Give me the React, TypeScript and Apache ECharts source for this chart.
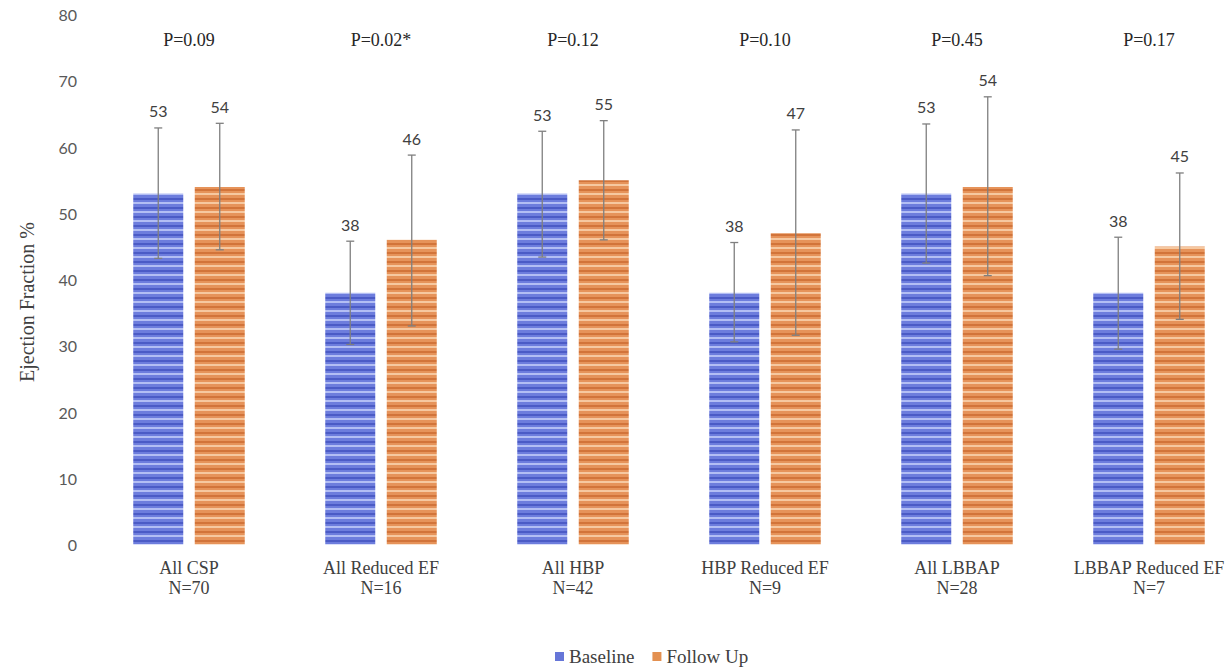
import React, { useEffect, useRef } from "react";
import * as echarts from "echarts";

const categories = ["All CSP\nN=70", "All Reduced EF\nN=16", "All HBP\nN=42", "HBP Reduced EF\nN=9", "All LBBAP\nN=28", "LBBAP Reduced EF\nN=7"];
const pValues = ["P=0.09", "P=0.02*", "P=0.12", "P=0.10", "P=0.45", "P=0.17"];
const baseline = [53, 38, 53, 38, 53, 38];
const baselineLow = [43.2, 30.2, 43.4, 30.6, 42.5, 29.5];
const baselineHigh = [62.9, 45.8, 62.4, 45.6, 63.5, 46.4];
const followUp = [54, 46, 55, 47, 54, 45];
const followUpLow = [44.5, 33.0, 46.0, 31.6, 40.6, 34.0];
const followUpHigh = [63.6, 58.8, 64.0, 62.6, 67.6, 56.1];
const yTicks = { min: 0, max: 80, interval: 10 };

const W = 1225;
const H = 668;
const CW = 1270; // chart canvas wider than the window: the right edge is cut off as in the reference
const BAR_W = 50;
const GAP_PX = 11.5;
const SERIF = "'Liberation Serif', 'Times New Roman', serif";
const SANS = "Lato, Carlito, Calibri, 'Liberation Sans', sans-serif";

function stripes(dark: string, mid: string, light: string) {
  const period = 9;
  const stops: { offset: number; color: string }[] = [];
  const bands: [number, number, string][] = [
    [0, 2, dark],
    [2, 4, mid],
    [4, 6, light],
    [6, 9, mid],
  ];
  for (let y0 = 0; y0 < H; y0 += period) {
    for (const [a, b, c] of bands) {
      stops.push({ offset: Math.min(1, (y0 + a) / H), color: c });
      stops.push({ offset: Math.min(1, (y0 + b) / H), color: c });
    }
  }
  return new echarts.graphic.LinearGradient(0, 0, 0, H, stops, true);
}

function errorSeries(name: string, vals: number[], low: number[], high: number[], offset: number) {
  return {
    type: "custom",
    name: name + " err",
    z: 5,
    clip: false,
    silent: true,
    data: vals.map((v, i) => [i, low[i], high[i], v]),
    renderItem: (params: any, api: any) => {
      const idx = api.value(0);
      const x = api.coord([idx, 0])[0] + offset;
      const yl = api.coord([idx, api.value(1)])[1];
      const yh = api.coord([idx, api.value(2)])[1];
      const st = { stroke: "#7f7f7f", lineWidth: 1.3 };
      return {
        type: "group",
        children: [
          { type: "line", shape: { x1: x, y1: yl, x2: x, y2: yh }, style: st },
          { type: "line", shape: { x1: x - 4, y1: yh, x2: x + 4, y2: yh }, style: st },
          { type: "line", shape: { x1: x - 4, y1: yl, x2: x + 4, y2: yl }, style: st },
          {
            type: "text",
            x: x,
            y: yh - 17,
            style: {
              text: String(api.value(3)),
              textAlign: "center",
              textVerticalAlign: "middle",
              fill: "#404040",
              font: `16px ${SANS}`,
            },
          },
        ],
      };
    },
  };
}

export default function App() {
  const ref = useRef<HTMLDivElement>(null);
  useEffect(() => {
    if (!ref.current) return;
    const chart = echarts.init(ref.current, undefined, { renderer: "svg" });
    const off = (BAR_W + GAP_PX) / 2;
    chart.setOption({
      animation: false,
      backgroundColor: "#ffffff",
      grid: { left: 93, right: CW - 1245, top: 14.7, bottom: H - 544.5 },
      legend: {
        left: 550,
        top: 642,
        icon: "rect",
        itemWidth: 9,
        itemHeight: 9,
        itemGap: 18,
        textStyle: { fontFamily: SERIF, fontSize: 19, color: "#404040" },
        data: [
          { name: "Baseline", itemStyle: { color: "#6676d8" } },
          { name: "Follow Up", itemStyle: { color: "#e39050" } },
        ],
      },
      xAxis: {
        type: "category",
        data: categories,
        axisLine: { show: false },
        axisTick: { show: false },
        axisLabel: {
          interval: 0,
          margin: 13,
          fontFamily: SERIF,
          fontSize: 18,
          lineHeight: 20,
          color: "#404040",
        },
      },
      yAxis: {
        type: "value",
        min: yTicks.min,
        max: yTicks.max,
        interval: yTicks.interval,
        splitLine: { show: false },
        axisLine: { show: false },
        axisTick: { show: false },
        axisLabel: { margin: 16, fontFamily: SANS, fontSize: 16, color: "#595959" },
      },
      graphic: [
        {
          type: "text",
          x: 27,
          y: 302,
          rotation: Math.PI / 2,
          style: {
            text: "Ejection Fraction %",
            textAlign: "center",
            textVerticalAlign: "middle",
            font: `20px ${SERIF}`,
            fill: "#404040",
          },
        },
      ],
      series: [
        {
          type: "bar",
          name: "Baseline",
          data: baseline,
          barWidth: BAR_W,
          barGap: `${(GAP_PX / BAR_W) * 100}%`,
          itemStyle: { color: stripes("#4b5bc6", "#6d7ddd", "#b3bef4") },
        },
        {
          type: "bar",
          name: "Follow Up",
          data: followUp,
          barWidth: BAR_W,
          itemStyle: { color: stripes("#d2743a", "#e6935a", "#f6c8a0") },
        },
        errorSeries("Baseline", baseline, baselineLow, baselineHigh, -off),
        errorSeries("Follow Up", followUp, followUpLow, followUpHigh, off),
        {
          type: "custom",
          name: "p",
          silent: true,
          clip: false,
          data: pValues.map((p, i) => [i, 0]),
          renderItem: (params: any, api: any) => {
            const idx = api.value(0);
            const x = api.coord([idx, 0])[0];
            return {
              type: "text",
              x: x,
              y: params.coordSys.y + 25,
              style: {
                text: pValues[idx],
                textAlign: "center",
                textVerticalAlign: "middle",
                fill: "#262626",
                font: `18px ${SERIF}`,
              },
            };
          },
        },
      ],
    });
    return () => chart.dispose();
  }, []);
  return (
    <div style={{ position: "fixed", left: 0, top: 0, width: W, height: H, overflow: "hidden", background: "#fff" }}>
      <div ref={ref} style={{ width: CW, height: H }} />
    </div>
  );
}
